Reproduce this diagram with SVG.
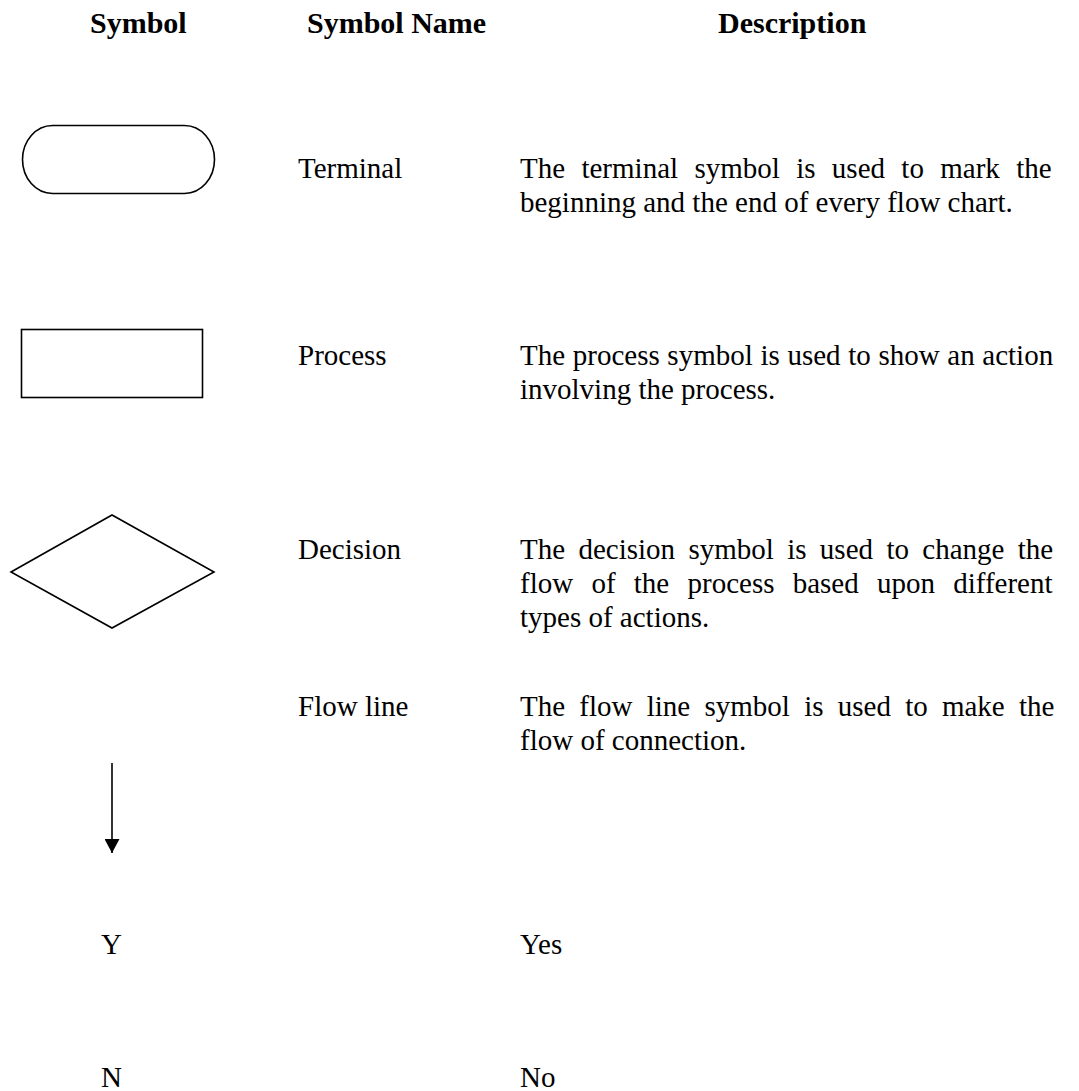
<svg xmlns="http://www.w3.org/2000/svg" width="1079" height="1091" viewBox="0 0 1079 1091">
<defs>
<style>
text{font-family:"Liberation Serif","Times New Roman",serif;fill:#000}
.h{font-size:30px;font-weight:bold}
.t{font-size:29px}
.shape{fill:#fff;stroke:#000;stroke-width:1.6}
</style>
<marker id="ah" viewBox="0 0 14 15" refX="14" refY="7.5" markerWidth="14" markerHeight="15" markerUnits="userSpaceOnUse" orient="auto">
<path d="M0,0 L14,7.5 L0,15 Z" fill="#000"/>
</marker>
</defs>
<rect width="1079" height="1091" fill="#fff"/>
<g id="headers">
<text class="h" x="90" y="33">Symbol</text>
<text class="h" x="307" y="33">Symbol Name</text>
<text class="h" x="718" y="33">Description</text>
</g>
<g id="terminal">
<rect class="shape" x="22.5" y="125.5" width="192" height="68" rx="30" ry="34"/>
<text class="t" x="298" y="178">Terminal</text>
<text class="t" x="520" y="178" word-spacing="9.1">The terminal symbol is used to mark the</text>
<text class="t" x="520" y="212">beginning and the end of every flow chart.</text>
</g>
<g id="process">
<rect class="shape" x="21.5" y="329.5" width="181" height="68"/>
<text class="t" x="298" y="365">Process</text>
<text class="t" x="520" y="365" word-spacing="0.4">The process symbol is used to show an action</text>
<text class="t" x="520" y="399">involving the process.</text>
</g>
<g id="decision">
<polygon class="shape" points="11,572 112,515 214,572 112,628"/>
<text class="t" x="298" y="559">Decision</text>
<text class="t" x="520" y="559" word-spacing="6.1">The decision symbol is used to change the</text>
<text class="t" x="520" y="593" word-spacing="11">flow of the process based upon different</text>
<text class="t" x="520" y="627">types of actions.</text>
</g>
<g id="flowline">
<text class="t" x="298" y="716">Flow line</text>
<text class="t" x="520" y="716" word-spacing="7">The flow line symbol is used to make the</text>
<text class="t" x="520" y="750">flow of connection.</text>
</g>
<g id="connectors">
<line x1="112" y1="763" x2="112" y2="853" stroke="#000" stroke-width="1.6" marker-end="url(#ah)"/>
</g>
<g id="yes">
<text class="t" x="101" y="954">Y</text>
<text class="t" x="520" y="954">Yes</text>
</g>
<g id="no">
<text class="t" x="101" y="1087">N</text>
<text class="t" x="520" y="1087">No</text>
</g>
</svg>
